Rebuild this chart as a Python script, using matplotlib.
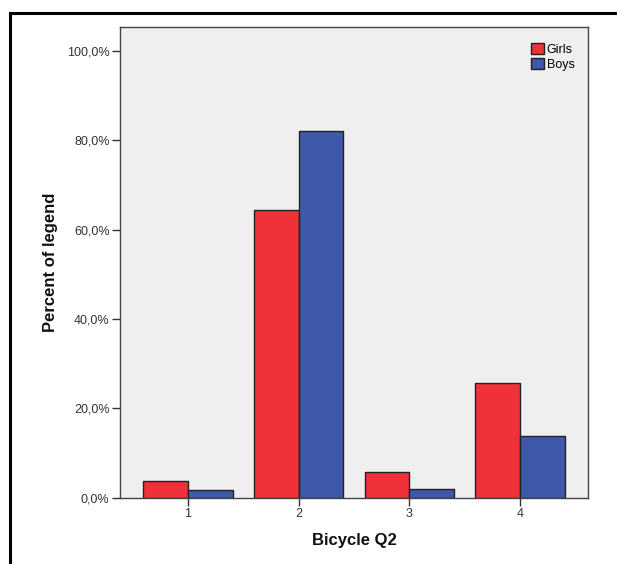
import matplotlib
matplotlib.use("Agg")
import matplotlib.pyplot as plt
import numpy as np
from matplotlib.patches import Patch
from matplotlib.lines import Line2D

plt.rcParams['font.family'] = ['Liberation Sans', 'DejaVu Sans']

categories = ["1", "2", "3", "4"]
girls = [3.8, 64.5, 5.7, 25.7]
boys = [1.8, 82.2, 1.9, 13.9]
y_ticks = [0, 20, 40, 60, 80, 100]
y_tick_labels = ["0,0%", "20,0%", "40,0%", "60,0%", "80,0%", "100,0%"]

W, H = 617, 564
fig = plt.figure(figsize=(W / 100, H / 100), dpi=100)

# outer frame lines (top and left)
fig.add_artist(Line2D([10 / W, 1.0], [1 - 12.5 / H, 1 - 12.5 / H], color="black", lw=2.2))
fig.add_artist(Line2D([10.5 / W, 10.5 / W], [0, 1 - 12.5 / H], color="black", lw=2.2))

ax_left, ax_right, ax_top, ax_bottom = 120, 588, 27, 497.7
ax = fig.add_axes([ax_left / W, 1 - ax_bottom / H, (ax_right - ax_left) / W, (ax_bottom - ax_top) / H])
ax.set_facecolor("#efefef")

x = np.arange(1, len(categories) + 1)
bw = 0.405
red = "#ef323a"
blue = "#3e58aa"
ax.bar(x - bw / 2, girls, width=bw, color=red, edgecolor="#222222", linewidth=1.0, label="Girls", zorder=2)
ax.bar(x + bw / 2, boys, width=bw, color=blue, edgecolor="#222222", linewidth=1.0, label="Boys", zorder=2)

ax.set_xlim(0.386, 4.614)
ax.set_ylim(0, 105.4)
ax.set_xticks(x)
ax.set_xticklabels(categories)
ax.set_yticks(y_ticks)
ax.set_yticklabels(y_tick_labels)

for s in ax.spines.values():
    s.set_color("#444444")
    s.set_linewidth(1.0)

ax.tick_params(axis="both", direction="out", length=6, width=1.0, color="#333333",
               labelsize=9, labelcolor="#333333", pad=1.5)

ax.set_ylabel("Percent of legend", fontsize=12, fontweight="bold", color="#111111", va="center")
ax.set_xlabel("Bicycle Q2", fontsize=12, fontweight="bold", color="#111111", va="center")
ax.yaxis.set_label_coords((51 - ax_left) / (ax_right - ax_left), 0.5)
ax.xaxis.set_label_coords(0.5, (ax_bottom - 540) / (ax_bottom - ax_top))

handles = [Patch(facecolor=red, edgecolor="#222222", label="Girls"),
           Patch(facecolor=blue, edgecolor="#222222", label="Boys")]
ax.legend(handles=handles, loc="upper right", frameon=False, fontsize=9,
          handlelength=1.0, handleheight=1.0, handletextpad=0.25, labelspacing=0.2,
          borderaxespad=0.3, bbox_to_anchor=(0.99, 0.985))

fig.savefig("out.png", dpi=100)
